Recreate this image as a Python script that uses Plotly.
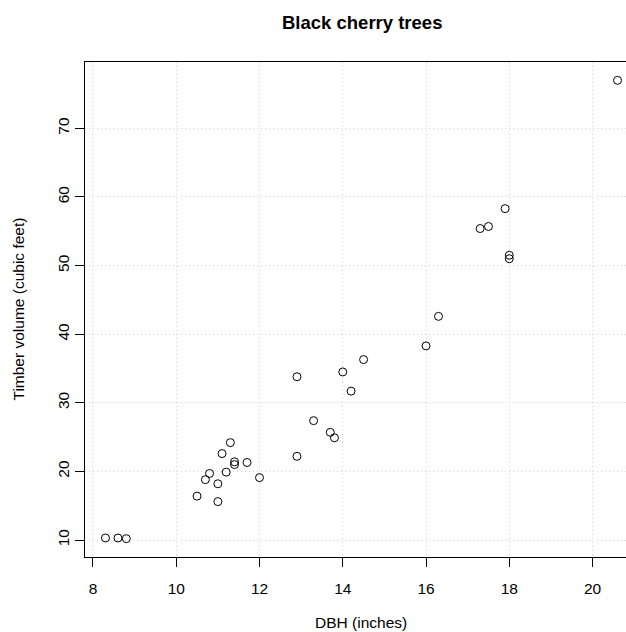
import plotly.graph_objects as go

girth = [8.3, 8.6, 8.8, 10.5, 10.7, 10.8, 11.0, 11.0, 11.1, 11.2, 11.3, 11.4, 11.4, 11.7, 12.0,
         12.9, 12.9, 13.3, 13.7, 13.8, 14.0, 14.2, 14.5, 16.0, 16.3, 17.3, 17.5, 17.9, 18.0, 18.0, 20.6]
volume = [10.3, 10.3, 10.2, 16.4, 18.8, 19.7, 15.6, 18.2, 22.6, 19.9, 24.2, 21.0, 21.4, 21.3, 19.1,
          22.2, 33.8, 27.4, 25.7, 24.9, 34.5, 31.7, 36.3, 38.3, 42.6, 55.4, 55.7, 58.3, 51.5, 51.0, 77.0]
x_ticks = [8, 10, 12, 14, 16, 18, 20]
y_ticks = [10, 20, 30, 40, 50, 60, 70]

FONT = "Liberation Sans, Arial, sans-serif"

fig = go.Figure()
fig.add_trace(go.Scatter(
    x=girth, y=volume, mode="markers",
    marker=dict(symbol="circle-open", size=8, color="black", line=dict(width=1, color="black")),
    showlegend=False, hoverinfo="skip"))

fig.update_layout(
    width=626, height=632,
    margin=dict(l=85, r=0, t=62, b=75, pad=0),
    paper_bgcolor="white", plot_bgcolor="white",
    font=dict(family=FONT, size=15.5, color="black"),
    xaxis=dict(range=[7.808, 20.804], tickvals=x_ticks, ticktext=[str(v) for v in x_ticks],
               showline=True, linecolor="black", linewidth=1, mirror=True,
               ticks="outside", ticklen=9, tickcolor="black", tickwidth=1,
               showgrid=True, gridcolor="#d3d3d3", griddash="1px,3px", gridwidth=1,
               zeroline=False, ticklabelstandoff=8),
    yaxis=dict(range=[7.528, 79.672], tickvals=y_ticks, ticktext=[str(v) for v in y_ticks],
               showline=True, linecolor="black", linewidth=1, mirror=False,
               ticks="outside", ticklen=9, tickcolor="black", tickwidth=1, tickangle=-90,
               showgrid=True, gridcolor="#d3d3d3", griddash="1px,3px", gridwidth=1,
               zeroline=False, ticklabelstandoff=0),
    annotations=[
        dict(text="<b>Black cherry trees</b>", xref="paper", yref="paper", x=0.512, y=1,
             xanchor="center", yanchor="middle", yshift=39.5, showarrow=False,
             font=dict(family=FONT, size=18.5, color="black")),
        dict(text="DBH (inches)", xref="paper", yref="paper", x=0.510, y=0,
             xanchor="center", yanchor="middle", yshift=-65, showarrow=False,
             font=dict(family=FONT, size=15.5, color="black")),
        dict(text="Timber volume (cubic feet)", xref="paper", yref="paper", x=0, y=0.5,
             xanchor="center", yanchor="middle", xshift=-67, textangle=-90, showarrow=False,
             font=dict(family=FONT, size=15.5, color="black")),
    ],
)

fig.write_html("out.html")
